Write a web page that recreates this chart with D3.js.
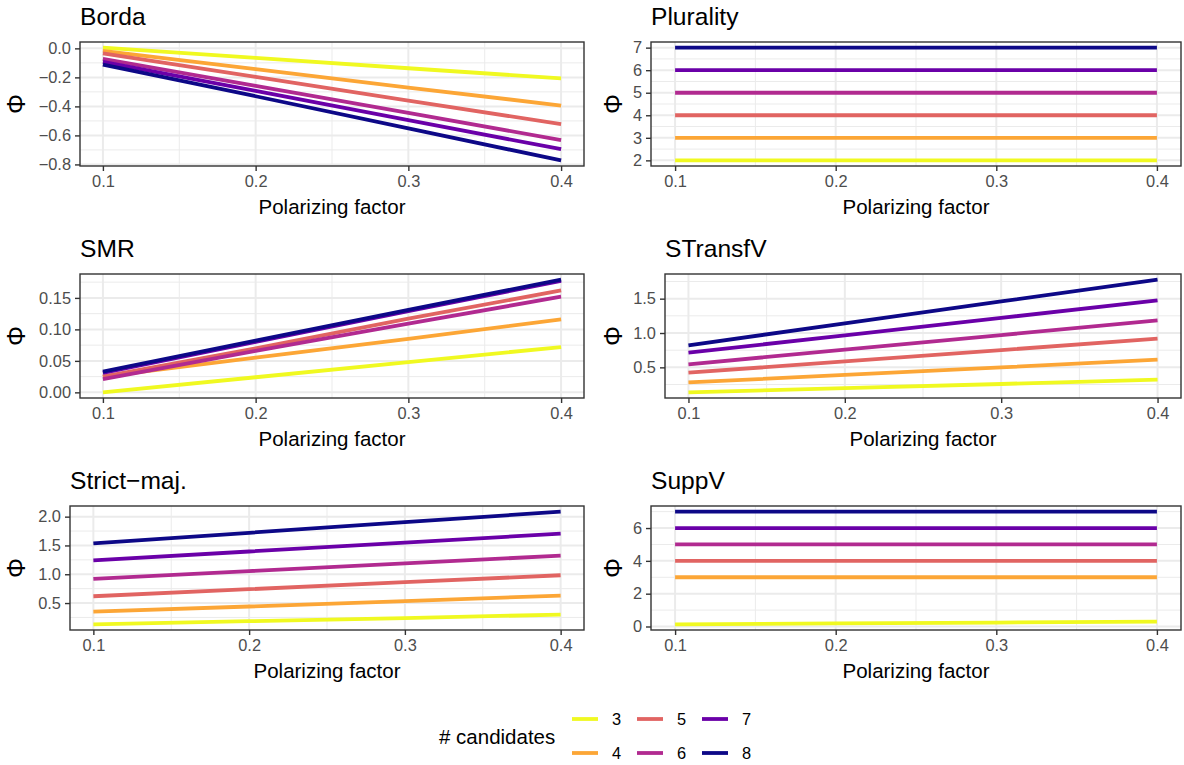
<!DOCTYPE html>
<html><head><meta charset="utf-8">
<script src="https://cdn.jsdelivr.net/npm/d3@7"></script>
<style>
body{margin:0;background:#fff}
svg{display:block}
text{font-family:"Liberation Sans",Arial,Helvetica,sans-serif}
</style>
</head><body>
<svg id="chart" width="1184" height="765"></svg>
<script>
// ---------------- data ----------------
const candidates = [3, 4, 5, 6, 7, 8];
const lineColors = ["#F0F921", "#FCA636", "#E16462", "#B12A90", "#6A00A8", "#0D0887"];
const polarizingFactor = [0.1, 0.2, 0.3, 0.4];
const xTickValues = [0.1, 0.2, 0.3, 0.4];
const panelTitles = ["Borda", "Plurality", "SMR", "STransfV", "Strict\u2212maj.", "SuppV"];

// each row = one # candidates (3..8), values at polarizing factor 0.1..0.4
const bordaValues = [
  [0.005, -0.066, -0.137, -0.207],
  [-0.018, -0.143, -0.270, -0.394],
  [-0.035, -0.196, -0.360, -0.522],
  [-0.072, -0.258, -0.445, -0.632],
  [-0.093, -0.293, -0.495, -0.695],
  [-0.112, -0.330, -0.552, -0.772]
];
const pluralityValues = [
  [2, 2, 2, 2], [3, 3, 3, 3], [4, 4, 4, 4], [5, 5, 5, 5], [6, 6, 6, 6], [7, 7, 7, 7]
];
const smrValues = [
  [0.000, 0.024, 0.048, 0.072],
  [0.025, 0.055, 0.085, 0.116],
  [0.025, 0.070, 0.117, 0.162],
  [0.021, 0.066, 0.109, 0.152],
  [0.031, 0.080, 0.129, 0.177],
  [0.033, 0.082, 0.131, 0.179]
];
const stransfvValues = [
  [0.136, 0.197, 0.258, 0.320],
  [0.280, 0.390, 0.500, 0.612],
  [0.422, 0.587, 0.752, 0.917],
  [0.544, 0.757, 0.970, 1.184],
  [0.713, 0.967, 1.220, 1.476],
  [0.820, 1.140, 1.460, 1.777]
];
const strictMajValues = [
  [0.130, 0.185, 0.240, 0.300],
  [0.350, 0.440, 0.535, 0.630],
  [0.618, 0.740, 0.862, 0.983],
  [0.920, 1.055, 1.190, 1.323],
  [1.240, 1.395, 1.550, 1.705],
  [1.537, 1.720, 1.905, 2.087]
];
const suppvValues = [
  [0.130, 0.185, 0.240, 0.300],
  [3, 3, 3, 3], [4, 4, 4, 4], [5, 5, 5, 5], [6, 6, 6, 6], [7, 7, 7, 7]
];

const bordaTicks = [0.0, -0.2, -0.4, -0.6, -0.8];
const pluralityTicks = [2, 3, 4, 5, 6, 7];
const smrTicks = [0.00, 0.05, 0.10, 0.15];
const stransfvTicks = [0.5, 1.0, 1.5];
const strictMajTicks = [0.5, 1.0, 1.5, 2.0];
const suppvTicks = [0, 2, 4, 6];

// ---------------- layout ----------------
const panels = [
  {title: panelTitles[0], values: bordaValues, ticks: bordaTicks, fmt: ".1f", col: 0, row: 0, left: 80},
  {title: panelTitles[1], values: pluralityValues, ticks: pluralityTicks, fmt: "d", col: 1, row: 0, left: 651},
  {title: panelTitles[2], values: smrValues, ticks: smrTicks, fmt: ".2f", col: 0, row: 1, left: 80},
  {title: panelTitles[3], values: stransfvValues, ticks: stransfvTicks, fmt: ".1f", col: 1, row: 1, left: 665},
  {title: panelTitles[4], values: strictMajValues, ticks: strictMajTicks, fmt: ".1f", col: 0, row: 2, left: 70},
  {title: panelTitles[5], values: suppvValues, ticks: suppvTicks, fmt: "d", col: 1, row: 2, left: 651}
];
const colRight = [584, 1181];
const colYTitleX = [17, 614];
const rowOffset = 232;
const panelTop = 42, panelBottom = 166;

const svg = d3.select("#chart");
const TICK = 5, GAP = 4;

function expand(ext) {
  const r = ext[1] - ext[0];
  const e = r === 0 ? 0.5 : r * 0.05;
  return [ext[0] - e, ext[1] + e];
}
function minorTicks(ticks, dom) {
  const t = ticks.slice().sort((a, b) => a - b);
  const step = t[1] - t[0];
  const out = [];
  for (let i = -1; i < t.length; i++) {
    const v = t[0] + step * (i + 0.5);
    if (v >= dom[0] && v <= dom[1]) out.push(v);
  }
  return out;
}

panels.forEach(p => {
  const y0 = p.row * rowOffset;
  const top = y0 + panelTop, bottom = y0 + panelBottom;
  const left = p.left, right = colRight[p.col];

  const x = d3.scaleLinear().domain(expand(d3.extent(polarizingFactor))).range([left, right]);
  const allV = p.values.flat();
  const yDom = expand(d3.extent(allV));
  const y = d3.scaleLinear().domain(yDom).range([bottom, top]);

  const g = svg.append("g");
  g.append("rect").attr("x", left).attr("y", top).attr("width", right - left).attr("height", bottom - top).attr("fill", "#fff");

  const xMinor = minorTicks(xTickValues, x.domain());
  const yMinor = minorTicks(p.ticks, yDom);
  const grid = g.append("g");
  grid.selectAll(".yminor").data(yMinor).join("line")
    .attr("x1", left).attr("x2", right).attr("y1", d => y(d)).attr("y2", d => y(d))
    .attr("stroke", "#EBEBEB").attr("stroke-width", 1);
  grid.selectAll(".xminor").data(xMinor).join("line")
    .attr("y1", top).attr("y2", bottom).attr("x1", d => x(d)).attr("x2", d => x(d))
    .attr("stroke", "#EBEBEB").attr("stroke-width", 1);
  grid.selectAll(".ymajor").data(p.ticks).join("line")
    .attr("x1", left).attr("x2", right).attr("y1", d => y(d)).attr("y2", d => y(d))
    .attr("stroke", "#EBEBEB").attr("stroke-width", 2);
  grid.selectAll(".xmajor").data(xTickValues).join("line")
    .attr("y1", top).attr("y2", bottom).attr("x1", d => x(d)).attr("x2", d => x(d))
    .attr("stroke", "#EBEBEB").attr("stroke-width", 2);

  const line = d3.line().x((d, i) => x(polarizingFactor[i])).y(d => y(d));
  g.append("g").selectAll("path").data(p.values).join("path")
    .attr("d", d => line(d))
    .attr("fill", "none")
    .attr("stroke", (d, i) => lineColors[i])
    .attr("stroke-width", 3.8)
    .attr("stroke-linejoin", "round");

  g.append("rect").attr("x", left).attr("y", top).attr("width", right - left).attr("height", bottom - top)
    .attr("fill", "none").attr("stroke", "#333333").attr("stroke-width", 1.4);

  // axes
  const fmt = d3.format(p.fmt);
  const yAxis = d3.axisLeft(y).tickValues(p.ticks).tickFormat(fmt).tickSize(TICK).tickPadding(GAP);
  const ya = g.append("g").attr("transform", `translate(${left},0)`).call(yAxis);
  const xAxis = d3.axisBottom(x).tickValues(xTickValues).tickFormat(d3.format(".1f")).tickSize(TICK).tickPadding(GAP);
  const xa = g.append("g").attr("transform", `translate(0,${bottom})`).call(xAxis);
  [ya, xa].forEach(a => {
    a.select(".domain").remove();
    a.selectAll(".tick line").attr("stroke", "#333333").attr("stroke-width", 1.4);
    a.selectAll(".tick text").attr("fill", "#4D4D4D").attr("font-size", 16.4)
      .attr("font-family", '"Liberation Sans",Arial,sans-serif');
  });

  // titles
  g.append("text").attr("x", left).attr("y", y0 + 25).attr("font-size", 24.6).attr("fill", "#000").text(p.title);
  g.append("text").attr("x", (left + right) / 2).attr("y", y0 + 214).attr("text-anchor", "middle")
    .attr("font-size", 20.5).attr("fill", "#000").text("Polarizing factor");
  g.append("text").attr("transform", `translate(${colYTitleX[p.col] + 8},${(top + bottom) / 2}) rotate(-90)`)
    .attr("text-anchor", "middle").attr("font-size", 25).attr("fill", "#000")
    .attr("font-family", '"DejaVu Sans",sans-serif').text("\u03A6");
});

// ---------------- legend ----------------
const leg = svg.append("g");
leg.append("text").attr("x", 439).attr("y", 744).attr("font-size", 20.5).attr("fill", "#000").text("# candidates");
const legColX = [572, 637, 702];
const legRowY = [719, 753];
candidates.forEach((c, i) => {
  const cx = legColX[Math.floor(i / 2)], cy = legRowY[i % 2];
  leg.append("line").attr("x1", cx).attr("x2", cx + 26).attr("y1", cy).attr("y2", cy)
    .attr("stroke", lineColors[i]).attr("stroke-width", 3.8);
  leg.append("text").attr("x", cx + 40).attr("y", cy + 6).attr("font-size", 16.4).attr("fill", "#000").text(c);
});
</script>
</body></html>
